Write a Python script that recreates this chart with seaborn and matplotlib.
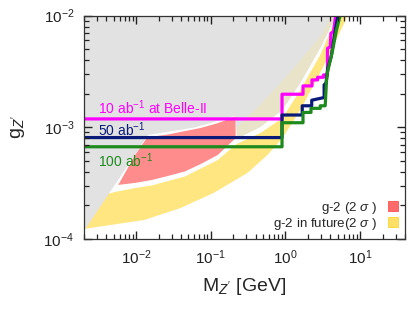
import numpy as np
import matplotlib
matplotlib.use("Agg")
import matplotlib.pyplot as plt
from matplotlib.patches import Patch
import seaborn as sns

# excluded region (gray), lower boundary
gray_m = [0.002, 0.0145, 0.0612, 0.2155, 0.222, 0.464, 0.912, 1.585, 2.93, 4.79]
gray_g = [1.18e-4, 8.55e-4, 9.98e-4, 1.27e-3, 7.87e-4, 1.01e-3, 1.43e-3, 2.5e-3, 5.14e-3, 1.0e-2]

# g-2 (2 sigma) band
red_m_top = [0.00575, 0.0097, 0.0145, 0.0163, 0.0267, 0.0736, 0.124, 0.215]
red_g_top = [3.05e-4, 5.66e-4, 8.37e-4, 8.25e-4, 8.63e-4, 9.88e-4, 1.09e-3, 1.25e-3]
red_m_bot = [0.00575, 0.0097, 0.0163, 0.0267, 0.045, 0.0736, 0.124, 0.215]
red_g_bot = [3.05e-4, 3.18e-4, 3.38e-4, 3.67e-4, 4.03e-4, 4.70e-4, 5.66e-4, 8.0e-4]

# g-2 in future (2 sigma) band
fut_m_bot = [0.002, 0.0128, 0.0398, 0.1096, 0.311, 0.575, 0.912, 1.585, 3.21, 6.71, 7.35]
fut_g_bot = [1.23e-4, 1.48e-4, 1.9e-4, 2.59e-4, 3.91e-4, 5.66e-4, 8.0e-4, 1.43e-3, 3.48e-3, 9.7e-3, 1.13e-2]
fut_m_top = [0.002, 0.00525, 0.0097, 0.0163, 0.045, 0.124, 0.222, 0.464, 0.912, 1.585, 2.93, 4.94, 5.6]
fut_g_top = [2.24e-4, 2.64e-4, 2.86e-4, 3.02e-4, 3.63e-4, 5.1e-4, 7.1e-4, 8.9e-4, 1.21e-3, 2.16e-3, 4.45e-3, 1.0e-2, 1.3e-2]

# faint part of the future band hidden under the excluded region
faint_m = [0.222, 0.464, 0.912, 1.585, 2.93, 4.2]
faint_g = [1.0e-3, 1.6e-3, 2.6e-3, 4.0e-3, 6.5e-3, 1.0e-2]

# Belle-II reach
b10_m = [0.002, 0.90, 0.90, 1.72, 1.72, 2.27, 2.27, 2.70, 2.70, 3.24, 3.24, 3.66, 3.66, 3.98, 4.07, 4.41, 4.75]
b10_g = [1.19e-3, 1.19e-3, 1.98e-3, 1.98e-3, 2.35e-3, 2.35e-3, 2.66e-3, 2.66e-3, 2.81e-3, 2.81e-3, 2.95e-3, 2.95e-3,
         5.1e-3, 5.27e-3, 6.95e-3, 7.2e-3, 1.05e-2]
b50_m = [0.002, 0.90, 0.90, 1.68, 1.68, 2.25, 2.25, 3.3, 3.3, 3.5, 3.7, 4.1, 4.6, 5.1]
b50_g = [8.1e-4, 8.1e-4, 1.29e-3, 1.29e-3, 1.56e-3, 1.56e-3, 1.75e-3, 1.85e-3, 2.4e-3, 2.5e-3, 3.4e-3, 4.3e-3,
         7.0e-3, 1.05e-2]
b100_m = [0.002, 0.90, 0.90, 1.72, 1.72, 2.20, 2.20, 2.93, 2.93, 3.41, 3.55, 3.65, 4.2, 4.8, 5.5]
b100_g = [6.7e-4, 6.7e-4, 1.10e-3, 1.10e-3, 1.36e-3, 1.36e-3, 1.48e-3, 1.48e-3, 1.56e-3, 1.56e-3, 2.6e-3, 3.1e-3,
          4.6e-3, 7.3e-3, 1.05e-2]

sns.set_theme(style="ticks")
plt.rcParams["font.family"] = ["Liberation Sans", "DejaVu Sans"]
plt.rcParams["mathtext.fontset"] = "custom"
plt.rcParams["mathtext.rm"] = "Liberation Sans"
plt.rcParams["mathtext.it"] = "Liberation Sans:italic"

fig = plt.figure(figsize=(4.16, 3.10), dpi=100)
ax = fig.add_axes([84 / 416, 1 - 239 / 310, 321 / 416, 223.3 / 310])
ax.set_xscale("log")
ax.set_yscale("log")
ax.set_xlim(2e-3, 40)
ax.set_ylim(1e-4, 1e-2)
ax.set_axisbelow(False)

# bands
ax.fill(fut_m_bot + fut_m_top[::-1], fut_g_bot + fut_g_top[::-1], color="#ffe680", lw=0, zorder=1)
ax.fill(gray_m + [gray_m[-1], 0.002], gray_g + [1.5e-2, 1.5e-2], color="#e2e2e2", lw=0, zorder=1.2)
ax.fill(gray_m[4:] + faint_m[::-1], gray_g[4:] + faint_g[::-1], color="#ffe680", alpha=0.25, lw=0, zorder=1.3)
ax.fill(red_m_top + red_m_bot[::-1], red_g_top + red_g_bot[::-1], color="#ff8c8c", lw=0, zorder=1.5)

lw = 2.3
sns.lineplot(x=b10_m, y=b10_g, sort=False, estimator=None, color="#ff00ff", lw=lw, ax=ax, zorder=2)
sns.lineplot(x=b50_m, y=b50_g, sort=False, estimator=None, color="#0a1a78", lw=lw, ax=ax, zorder=2)
sns.lineplot(x=b100_m, y=b100_g, sort=False, estimator=None, color="#1e8a1e", lw=lw, ax=ax, zorder=2)

ax.text(0.0031, 1.31e-3, "10 ab$^{-1}$ at Belle-II", color="#ff00ff", fontsize=10, va="baseline", zorder=6)
ax.text(0.0031, 8.45e-4, "50 ab$^{-1}$", color="#0a1a78", fontsize=10, va="baseline", zorder=6)
ax.text(0.0031, 4.4e-4, "100 ab$^{-1}$", color="#1e8a1e", fontsize=10, va="baseline", zorder=6)

handles = [Patch(facecolor="#ff6b6b", edgecolor="#ff5050", lw=0.6),
           Patch(facecolor="#ffe066", edgecolor="#ffd633", lw=0.6)]
leg = ax.legend(handles, [r"g-2 (2 $\sigma$ )", r"g-2 in future(2 $\sigma$ )"], loc="lower right",
                markerfirst=False, frameon=False, fontsize=9.6, handlelength=0.75, handleheight=0.75,
                handletextpad=0.8, labelspacing=0.0, borderaxespad=0.15)
leg.set_zorder(6)

ax.set_xlabel("M$_{Z'}$ [GeV]", fontsize=14, labelpad=6)
ax.set_ylabel("g$_{Z'}$", fontsize=14, labelpad=12)
ax.tick_params(which="both", direction="in", top=True, right=True, labelsize=11, colors="#222222")
ax.tick_params(which="major", length=6, width=1.0, pad=7)
ax.tick_params(which="minor", length=3.5, width=0.9)
ax.xaxis.set_minor_locator(matplotlib.ticker.LogLocator(base=10, subs=np.arange(2, 10), numticks=20))
ax.yaxis.set_minor_locator(matplotlib.ticker.LogLocator(base=10, subs=np.arange(2, 10), numticks=20))
ax.xaxis.set_minor_formatter(matplotlib.ticker.NullFormatter())
ax.yaxis.set_minor_formatter(matplotlib.ticker.NullFormatter())
for s in ax.spines.values():
    s.set_color("#333333")
    s.set_linewidth(0.9)
    s.set_zorder(7)

fig.savefig("out.png", dpi=100)
